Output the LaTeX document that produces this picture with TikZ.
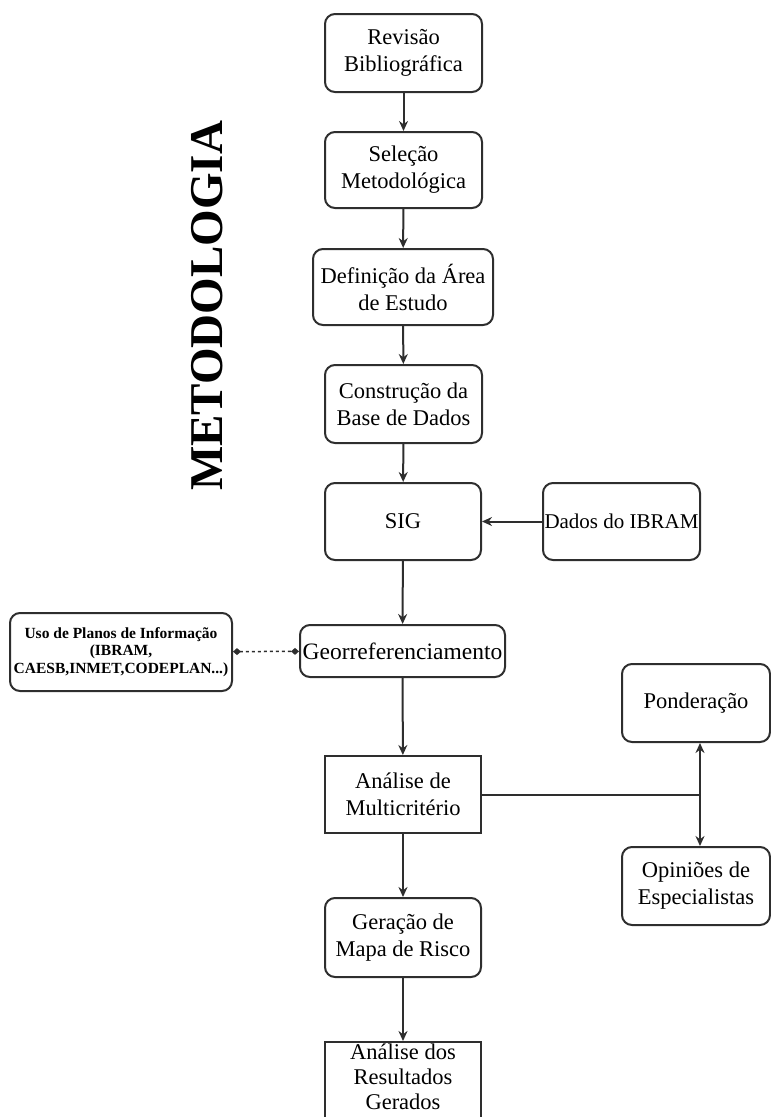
\documentclass[tikz,border=0pt]{standalone}
\usepackage{fontspec}
\setmainfont{Liberation Serif}
\usetikzlibrary{arrows.meta}
\definecolor{edge}{HTML}{2E2E2E}
\begin{document}
\begin{tikzpicture}[x=1pt,y=-1pt,
  base/.style={draw=edge, line width=2pt, fill=white, align=center, inner sep=0pt,
    font=\fontsize{22.5}{27}\selectfont},
  roundbox/.style={base, rounded corners=10pt},
  sharpbox/.style={base},
  flow/.style={draw=edge, line width=2pt, -{Stealth[length=10pt,width=9pt]}},
  link/.style={draw=edge, line width=2pt}]
\useasboundingbox (0,0) rectangle (771,1117);

% title along the left side
\node[rotate=90, font=\bfseries\fontsize{47}{50}\selectfont] (title) at (207,306) {METODOLOGIA};

% main sequence of steps
\node[roundbox, minimum width=157pt, minimum height=78pt] (rev) at (403.5,53) {Revisão\\Bibliográfica};
\node[roundbox, minimum width=157pt, minimum height=76pt] (sel) at (403.5,170) {Seleção\\Metodológica};
\node[roundbox, minimum width=180pt, minimum height=76pt] (def) at (403,287) {Definição da Área\\de Estudo};
\node[roundbox, minimum width=157pt, minimum height=78pt] (con) at (403.5,404) {Construção da\\Base de Dados};
\node[roundbox, minimum width=156pt, minimum height=77pt] (sig) at (403,521.5) {SIG};
\node[roundbox, minimum width=157pt, minimum height=77pt, font=\fontsize{21}{26}\selectfont] (ibr) at (621.5,521.5) {Dados do IBRAM};
\node[roundbox, minimum width=205pt, minimum height=52pt, font=\fontsize{23.5}{27}\selectfont] (geo) at (402.5,651) {Georreferenciamento};
\node[roundbox, minimum width=222pt, minimum height=78pt,
  font=\bfseries\fontsize{15.5}{17.5}\selectfont] (uso) at (121,652)
  {Uso de Planos de Informação\\(IBRAM,\\CAESB,INMET,CODEPLAN...)};
\node[sharpbox, minimum width=156pt, minimum height=77pt] (mca) at (403,794.5) {Análise de\\Multicritério};
\node[roundbox, minimum width=148pt, minimum height=78pt] (pon) at (696,703) {Ponderação};
\node[roundbox, minimum width=148pt, minimum height=78pt] (opi) at (696,886) {Opiniões de\\Especialistas};
\node[roundbox, minimum width=156pt, minimum height=79pt] (mapa) at (403,937.5) {Geração de\\Mapa de Risco};
\node[sharpbox, minimum width=156pt, minimum height=80pt, text depth=10pt,
  font=\fontsize{22.5}{25}\selectfont] (res) at (403,1082) {Análise dos\\Resultados\\Gerados};

% connectors
\draw[flow] (rev) -- (sel);
\draw[flow] (sel) -- (def);
\draw[flow] (def) -- (con);
\draw[flow] (con) -- (sig);
\draw[flow] (ibr) -- (sig);
\draw[flow] (sig) -- (geo);
\draw[link, dashed, line width=1.5pt, {Diamond[length=8pt,width=7pt]}-{Diamond[length=8pt,width=7pt]}] (uso) -- (geo);
\draw[flow] (geo) -- (mca);
\coordinate (split) at (700,794.5);
\draw[link] (mca.east) -- (split);
\draw[flow] (split) -- (split |- pon.south);
\draw[flow] (split) -- (split |- opi.north);
\draw[flow] (mca) -- (mapa);
\draw[flow] (mapa) -- (res);
\end{tikzpicture}
\end{document}
